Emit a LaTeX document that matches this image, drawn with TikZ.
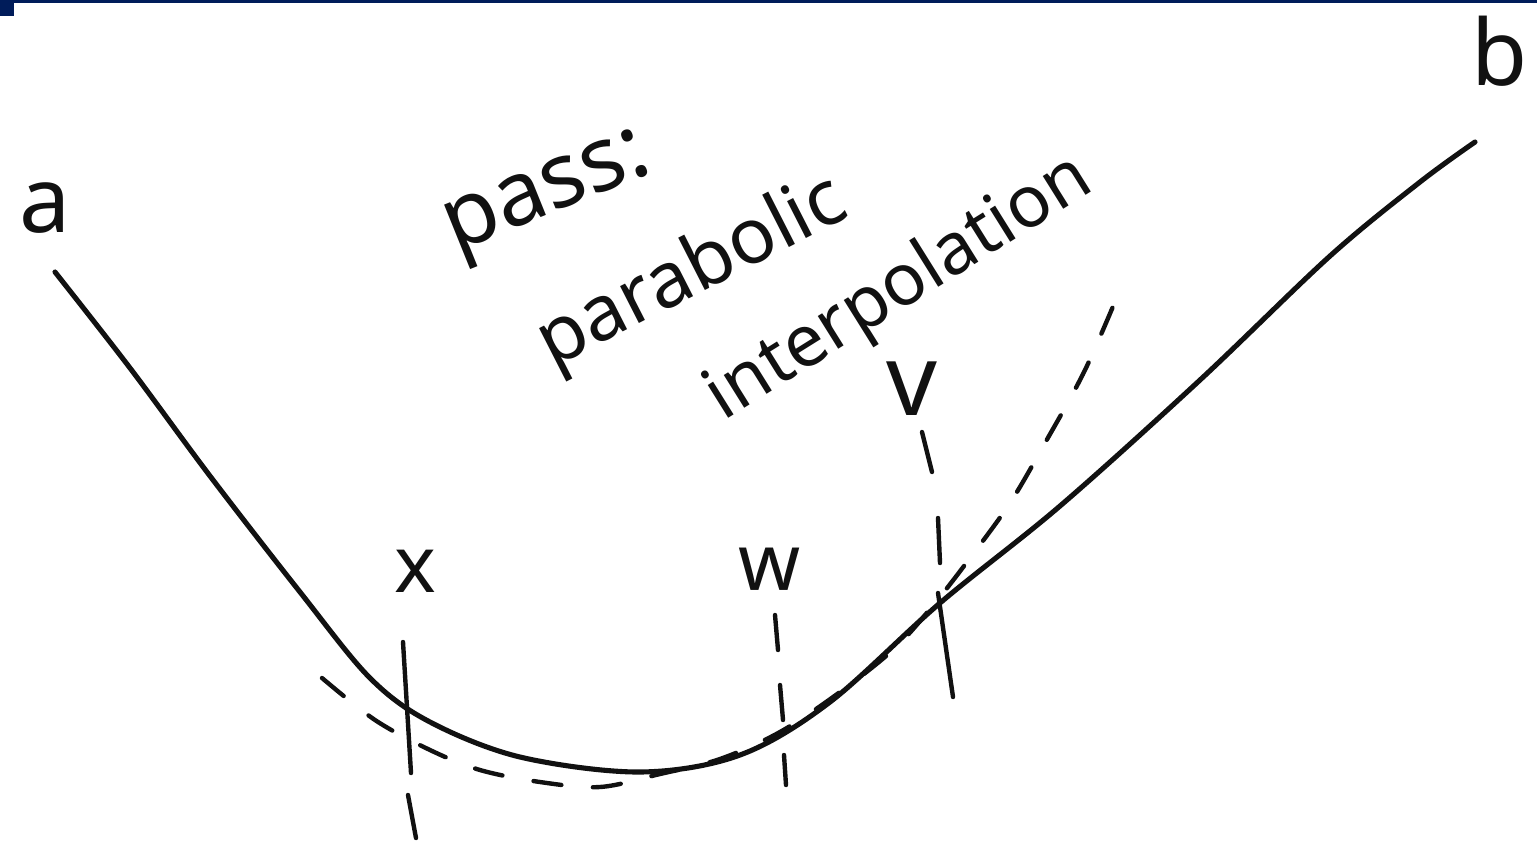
\documentclass[tikz,border=0pt]{standalone}
\usepackage{fontspec}
\setmainfont{Noto Sans}
\definecolor{navy}{HTML}{001C5A}
\definecolor{ink}{HTML}{111111}
\begin{document}
\begin{tikzpicture}[x=0.02cm,y=-0.02cm,
  curve/.style={draw=ink,line width=2.9pt,line cap=round,line join=round},
  stroke/.style={draw=ink,line width=2.5pt,line cap=round},
  dashline/.style={draw=ink,line width=2.5pt,line cap=round,dash pattern=on 16pt off 18pt},
  lbl/.style={inner sep=0pt,anchor=base,text=ink,font=\fontsize{#1}{#1}\selectfont}]
\path[fill=white,use as bounding box] (0,0) rectangle (1537,845);
% top bar
\fill[navy] (0,0) rectangle (1537,3);
\fill[navy] (0,0) rectangle (14,16);
% main curve
\draw[curve] plot[smooth,tension=0.55] coordinates {(55,272) (130,368) (210,476) (300,592) (370,678) (430,722) (520,757) (640,772) (740,755) (830,702) (940,603) (1060,506) (1200,380) (1330,256) (1420,182) (1475,142)};
% dashed parabola
\draw[dashline] plot[smooth,tension=0.55] coordinates {(322,678) (375,720) (430,750) (480,770) (540,782) (600,787) (660,774) (720,759) (780,732) (840,692) (895,648) (935,603) (970,558) (1010,503) (1045,443) (1085,370) (1122,285)};
% vertical line at x
\draw[stroke] (403,642) -- (411,773);
\draw[stroke] (408,795) -- (416,838);
% vertical dashed line at w
\draw[stroke] (775,615) -- (778,650);
\draw[stroke] (780,685) -- (783,720);
\draw[stroke] (784,755) -- (786,785);
% vertical line at v
\draw[stroke] (922,432) -- (932,472);
\draw[stroke] (938,518) -- (940,563);
\draw[stroke] (938,593) -- (953,697);
% labels
\node[lbl=52] (la) at (45,232) {a};
\node[lbl=52] (lb) at (1500,85) {b};
\node[lbl=51,rotate=22] (lpass) at (555,212) {pass:};
\node[lbl=44,rotate=27] (lpar) at (702,292) {parabolic};
\node[lbl=41,rotate=32] (lint) at (910,305) {interpolation};
\node[lbl=45] (lx) at (415,592) {x};
\node[lbl=45] (lw) at (770,590) {w};
\node[lbl=57] (lv) at (912,415) {v};
\end{tikzpicture}
\end{document}
